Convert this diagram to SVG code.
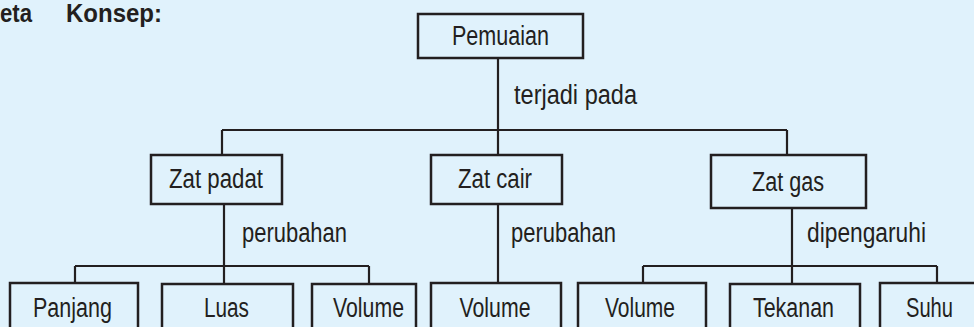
<svg xmlns="http://www.w3.org/2000/svg" width="974" height="327" viewBox="0 0 974 327">
  <style>
    .bg { fill: #E0F2FC; }
    .box { fill: #E0F2FC; stroke: #231F20; stroke-width: 2.5; }
    .line { fill: none; stroke: #231F20; stroke-width: 2.2; }
    .t { font-family: "Liberation Sans", Arial, sans-serif; font-size: 27px; fill: #231F20; }
    .c { text-anchor: middle; }
    .title { font-family: "Liberation Sans", Arial, sans-serif; font-size: 25px; font-weight: bold; fill: #231F20; }
  </style>
  <rect class="bg" x="0" y="0" width="974" height="327"/>

  <g id="title">
    <text class="title" x="0" y="22" textLength="32" lengthAdjust="spacingAndGlyphs">eta</text>
    <text class="title" x="66" y="22" textLength="96" lengthAdjust="spacingAndGlyphs">Konsep:</text>
  </g>

  <g id="connectors">
    <path class="line" d="M498 58 V155 M222 130 H787 M222 130 V155 M787 130 V155"/>
    <path class="line" d="M224 204 V284 M75 266 H369 M75 266 V283 M369 266 V284"/>
    <path class="line" d="M498 204 V283"/>
    <path class="line" d="M792 208 V284 M643 266 H937 M643 266 V283 M937 266 V283"/>
    <text class="t" x="514" y="104" textLength="123" lengthAdjust="spacingAndGlyphs">terjadi pada</text>
    <text class="t" x="242" y="242" textLength="105" lengthAdjust="spacingAndGlyphs">perubahan</text>
    <text class="t" x="511" y="242" textLength="105" lengthAdjust="spacingAndGlyphs">perubahan</text>
    <text class="t" x="807" y="242" textLength="119" lengthAdjust="spacingAndGlyphs">dipengaruhi</text>
  </g>

  <g id="pemuaian">
    <rect class="box" x="418" y="14" width="165" height="44"/>
    <text class="t c" x="500.5" y="45" textLength="97" lengthAdjust="spacingAndGlyphs">Pemuaian</text>
  </g>
  <g id="zat-padat">
    <rect class="box" x="151" y="155" width="131" height="49"/>
    <text class="t c" x="216" y="188" textLength="94" lengthAdjust="spacingAndGlyphs">Zat padat</text>
  </g>
  <g id="zat-cair">
    <rect class="box" x="431" y="155" width="131" height="49"/>
    <text class="t c" x="495" y="188" textLength="74" lengthAdjust="spacingAndGlyphs">Zat cair</text>
  </g>
  <g id="zat-gas">
    <rect class="box" x="711" y="155" width="155" height="53"/>
    <text class="t c" x="788" y="191" textLength="72" lengthAdjust="spacingAndGlyphs">Zat gas</text>
  </g>

  <g id="panjang">
    <rect class="box" x="10" y="283" width="128" height="60"/>
    <text class="t c" x="72.5" y="317" textLength="79" lengthAdjust="spacingAndGlyphs">Panjang</text>
  </g>
  <g id="luas">
    <rect class="box" x="162" y="284" width="131" height="60"/>
    <text class="t c" x="226.5" y="317" textLength="45" lengthAdjust="spacingAndGlyphs">Luas</text>
  </g>
  <g id="volume-padat">
    <rect class="box" x="312" y="284" width="104" height="60"/>
    <text class="t c" x="368.5" y="317" textLength="71" lengthAdjust="spacingAndGlyphs">Volume</text>
  </g>
  <g id="volume-cair">
    <rect class="box" x="431" y="283" width="130" height="60"/>
    <text class="t c" x="495" y="317" textLength="71" lengthAdjust="spacingAndGlyphs">Volume</text>
  </g>
  <g id="volume-gas">
    <rect class="box" x="578" y="283" width="128" height="60"/>
    <text class="t c" x="640" y="317" textLength="70" lengthAdjust="spacingAndGlyphs">Volume</text>
  </g>
  <g id="tekanan">
    <rect class="box" x="730" y="284" width="130" height="60"/>
    <text class="t c" x="793.5" y="317" textLength="81" lengthAdjust="spacingAndGlyphs">Tekanan</text>
  </g>
  <g id="suhu">
    <rect class="box" x="880" y="283" width="110" height="60"/>
    <text class="t c" x="929.5" y="317" textLength="47" lengthAdjust="spacingAndGlyphs">Suhu</text>
  </g>
</svg>
